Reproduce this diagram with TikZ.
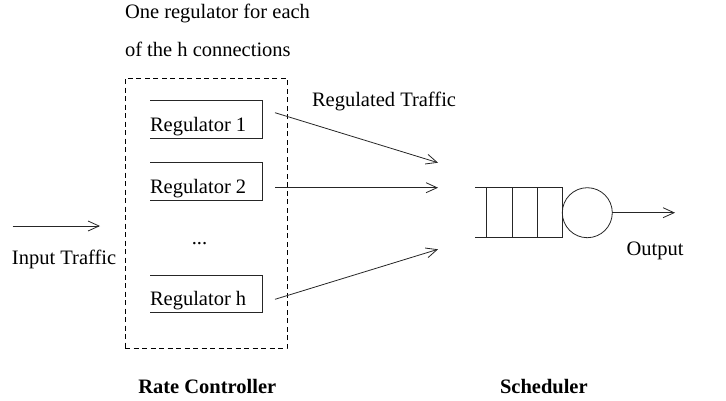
\documentclass[tikz,border=0pt]{standalone}
\usepackage{fontspec}
\setmainfont{Liberation Serif}
\usetikzlibrary{arrows.meta}
\begin{document}
\begin{tikzpicture}[x=1pt,y=-1pt,
  every node/.style={inner sep=0pt,outer sep=0pt,font=\fontsize{20.5}{24}\selectfont},
  regbox/.style={minimum width=112.5pt,minimum height=37.5pt,draw=none},
  wire/.style={line width=0.8pt,draw=black!85},
  flow/.style={wire,-{Straight Barb[length=11pt,width=10pt,line width=0.8pt]}},
  lbl/.style={anchor=base west},
]
\useasboundingbox (0,0) rectangle (726,400);
% dashed rate controller box
\node[draw,dash pattern=on 5pt off 3.5pt,line width=0.8pt,minimum width=162pt,minimum height=270pt,anchor=north west] (rc) at (125,78) {};
% regulator boxes
\node[regbox,anchor=north west] (r1) at (150,100.5) {};
\node[regbox,anchor=north west] (r2) at (150,162.7) {};
\node[regbox,anchor=north west] (rh) at (150,275) {};
\foreach \r in {r1,r2,rh}{
  \draw[wire] (\r.north west) -- (\r.north east) -- (\r.south east) -- (\r.south west);
}
\node[lbl] (t1) at (150,131.7) {Regulator 1};
\node[lbl] (t2) at (150,193.5) {Regulator 2};
\node[lbl] (th) at (150,305.5) {Regulator h};
\node[anchor=base] (dots) at (199.5,244) {...};
% top labels
\node[lbl] (c1) at (125,18.5) {One regulator for each};
\node[lbl] (c2) at (125,56) {of the h connections};
\node[lbl] (rt) at (312,106.5) {Regulated Traffic};
% input
\coordinate (inS) at (12.7,226);
\coordinate (inE) at (100,226);
\draw[flow] (inS) -- (inE);
\node[lbl] (it) at (12,264) {Input Traffic};
% regulated arrows
\coordinate (a1s) at (275,112.7);
\coordinate (a1e) at (438,162.7);
\coordinate (a2s) at (275,187.7);
\coordinate (a2e) at (438,187.7);
\coordinate (a3s) at (275,299.3);
\coordinate (a3e) at (438,249.3);
\draw[flow] (a1s) -- (a1e);
\draw[flow] (a2s) -- (a2e);
\draw[flow] (a3s) -- (a3e);
% queue
\node[minimum width=87.3pt,minimum height=50pt,anchor=north west] (q) at (475,187.7) {};
\draw[wire] (q.north west) -- (q.north east) -- (q.south east) -- (q.south west);
\draw[wire] (486.7,187.7) -- (486.7,237.7);
\draw[wire] (512.3,187.7) -- (512.3,237.7);
\draw[wire] (537.7,187.7) -- (537.7,237.7);
\node[draw,circle,line width=0.8pt,draw=black!85,minimum size=50pt] (srv) at (587.3,212.7) {};
\coordinate (outE) at (675,212.7);
\draw[flow] (srv.east) -- (outE);
\node[lbl] (ot) at (626.5,255) {Output};
% bottom labels
\node[lbl,font=\fontsize{20.5}{24}\selectfont\bfseries] (rcl) at (138.3,393.3) {Rate Controller};
\node[lbl,font=\fontsize{20.5}{24}\selectfont\bfseries] (sch) at (500,393.3) {Scheduler};
\end{tikzpicture}
\end{document}
